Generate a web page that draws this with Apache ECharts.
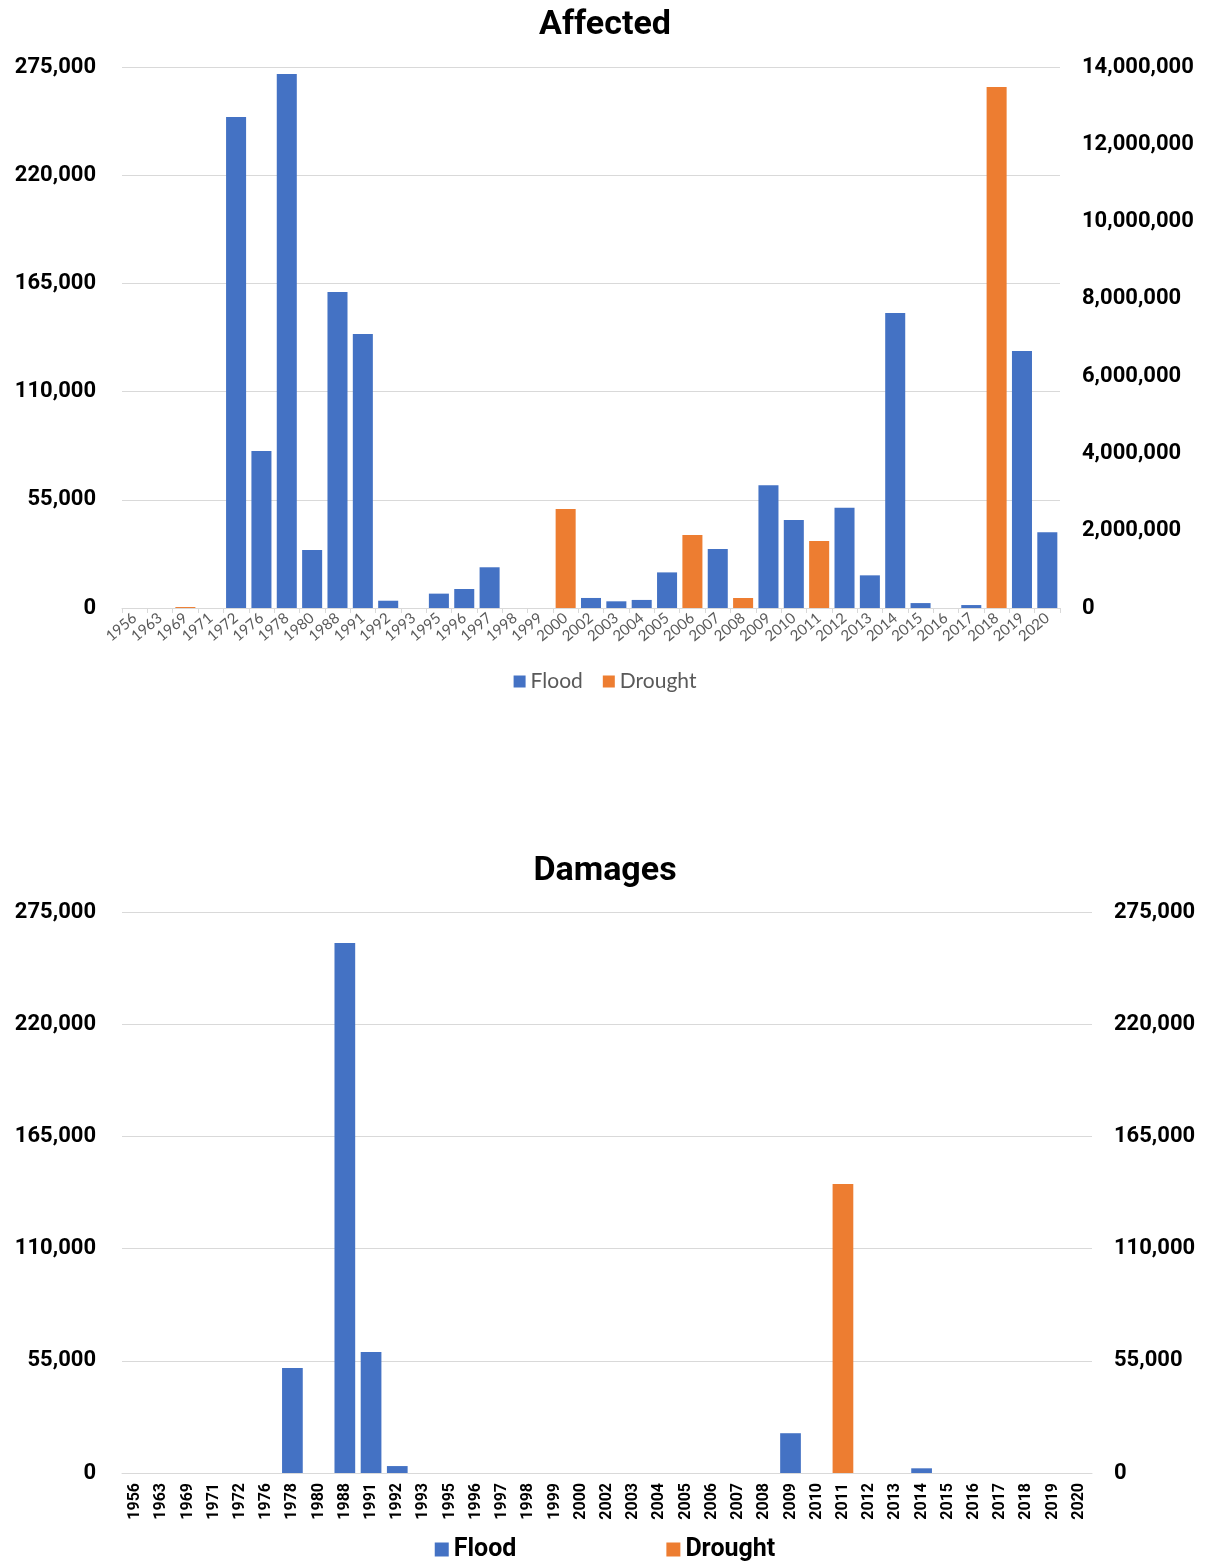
<!DOCTYPE html>
<html>
<head>
<meta charset="utf-8">
<script src="https://cdn.jsdelivr.net/npm/echarts@6/dist/echarts.min.js"></script>
<style>
  html, body { margin: 0; padding: 0; background: #fff; }
  #chart { width: 1210px; height: 1564px; }
</style>
</head>
<body>
<div id="chart"></div>
<script>
// Event years (category axis shared by both panels)
const years = ['1956','1963','1969','1971','1972','1976','1978','1980','1988','1991','1992','1993','1995','1996','1997','1998','1999','2000','2002','2003','2004','2005','2006','2007','2008','2009','2010','2011','2012','2013','2014','2015','2016','2017','2018','2019','2020'];

// People affected by floods (left axis)
const affectedFlood = [null,null,null,null,249600,79800,271400,29500,160600,139300,3700,null,7300,9650,20700,null,null,null,5100,3400,4100,18100,null,30000,null,62400,44700,null,51000,16600,150000,2500,null,1500,null,130600,38500];
// People affected by droughts (right axis)
const affectedDrought = [null,null,25000,null,null,null,null,null,null,null,null,null,null,null,null,null,null,2562000,null,null,null,null,1889000,null,259000,null,null,1734000,null,null,null,null,null,null,13482000,null,null];

// Damages by floods (left axis)
const damagesFlood = [null,null,null,null,null,null,51500,null,259800,59300,3400,null,null,null,null,null,null,null,null,null,null,null,null,null,null,19500,null,null,null,null,2300,null,null,null,null,null,null];
// Damages by droughts (right axis)
const damagesDrought = [null,null,null,null,null,null,null,null,null,null,null,null,null,null,null,null,null,null,null,null,null,null,null,null,null,null,null,141700,null,null,null,null,null,null,null,null,null];

// Axis tick settings
const leftMax = 275000, leftStep = 55000;
const rightMaxAffected = 14000000, rightStepAffected = 2000000;

const BLUE = '#4472C4', ORANGE = '#ED7D31', GRID = '#d9d9d9';
const fmt = v => Number(v).toLocaleString('en-US');
const boldNum = { fontFamily: 'Roboto', fontWeight: 'bold', fontSize: 22, color: '#000' };
const titleFont = { fontFamily: 'Roboto', fontWeight: 'bold', fontSize: 34, color: '#000' };

const chart = echarts.init(document.getElementById('chart'));
chart.setOption({
  animation: false,
  backgroundColor: '#fff',
  title: [
    { text: 'Affected', left: 'center', top: 3, textStyle: titleFont },
    { text: 'Damages', left: 'center', top: 849, textStyle: titleFont }
  ],
  legend: [
    { data: ['Flood', 'Drought'], top: 666, left: 'center', icon: 'rect',
      itemWidth: 12, itemHeight: 12, itemGap: 20,
      textStyle: { fontFamily: 'Lato', fontSize: 21, color: '#595959' } },
    { data: ['Flood', 'Drought'], top: 1532, left: 'center', icon: 'rect',
      itemWidth: 14, itemHeight: 14, itemGap: 150,
      textStyle: { fontFamily: 'Roboto', fontWeight: 'bold', fontSize: 25, color: '#000' } }
  ],
  grid: [
    { left: 122, right: 150, top: 67, height: 541 },
    { left: 122, right: 118, top: 912, height: 561 }
  ],
  xAxis: [
    { type: 'category', gridIndex: 0, data: years,
      axisLine: { lineStyle: { color: GRID } },
      axisTick: { show: true, length: 5, lineStyle: { color: GRID } },
      axisLabel: { rotate: 40, interval: 0, margin: 8, fontFamily: 'Lato', fontSize: 15, color: '#595959' } },
    { type: 'category', gridIndex: 1, data: years,
      axisLine: { lineStyle: { color: GRID } },
      axisTick: { show: false },
      axisLabel: { rotate: 90, interval: 0, margin: 10, fontFamily: 'Roboto', fontWeight: 'bold', fontSize: 16, color: '#000' } }
  ],
  yAxis: [
    { type: 'value', gridIndex: 0, position: 'left', min: 0, max: leftMax, interval: leftStep,
      axisLine: { show: false }, axisTick: { show: false },
      splitLine: { lineStyle: { color: GRID } },
      axisLabel: Object.assign({ margin: 26, formatter: fmt }, boldNum) },
    { type: 'value', gridIndex: 0, position: 'right', min: 0, max: rightMaxAffected, interval: rightStepAffected,
      axisLine: { show: false }, axisTick: { show: false }, splitLine: { show: false },
      axisLabel: Object.assign({ margin: 22, formatter: fmt }, boldNum) },
    { type: 'value', gridIndex: 1, position: 'left', min: 0, max: leftMax, interval: leftStep,
      axisLine: { show: false }, axisTick: { show: false },
      splitLine: { lineStyle: { color: GRID } },
      axisLabel: Object.assign({ margin: 26, formatter: fmt }, boldNum) },
    { type: 'value', gridIndex: 1, position: 'right', min: 0, max: leftMax, interval: leftStep,
      axisLine: { show: false }, axisTick: { show: false }, splitLine: { show: false },
      axisLabel: Object.assign({ margin: 22, formatter: fmt }, boldNum) }
  ],
  series: [
    { name: 'Flood', type: 'bar', xAxisIndex: 0, yAxisIndex: 0, data: affectedFlood,
      barCategoryGap: '21%', barGap: '-100%', itemStyle: { color: BLUE } },
    { name: 'Drought', type: 'bar', xAxisIndex: 0, yAxisIndex: 1, data: affectedDrought,
      barCategoryGap: '21%', barGap: '-100%', itemStyle: { color: ORANGE } },
    { name: 'Flood', type: 'bar', xAxisIndex: 1, yAxisIndex: 2, data: damagesFlood,
      barCategoryGap: '21%', barGap: '-100%', itemStyle: { color: BLUE } },
    { name: 'Drought', type: 'bar', xAxisIndex: 1, yAxisIndex: 3, data: damagesDrought,
      barCategoryGap: '21%', barGap: '-100%', itemStyle: { color: ORANGE } }
  ]
});
</script>
</body>
</html>
